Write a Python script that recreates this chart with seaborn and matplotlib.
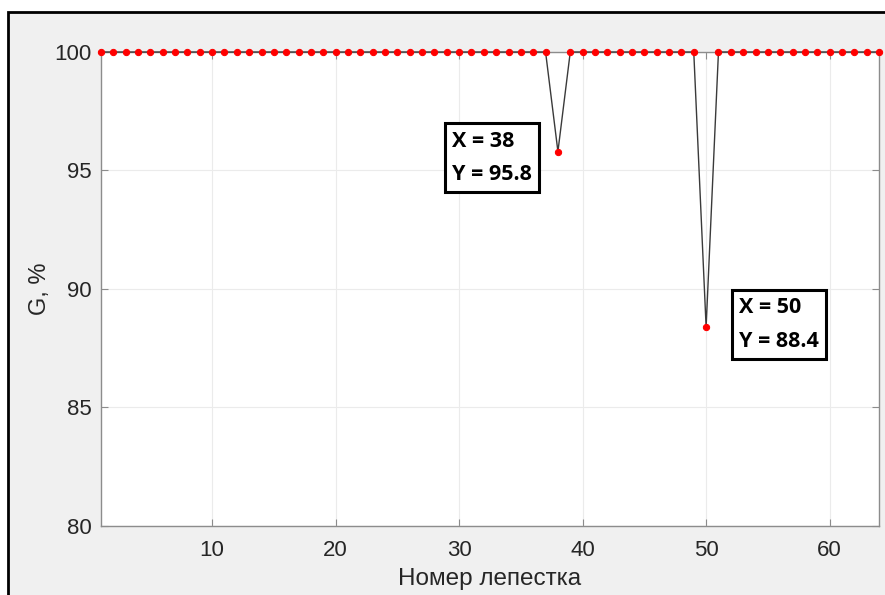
import matplotlib
matplotlib.use("Agg")
import matplotlib.pyplot as plt
import matplotlib.patches as mpatches
import seaborn as sns
import pandas as pd

# ---- data ----
petal_number = list(range(1, 65))
g_percent = [100, 100, 100, 100, 100, 100, 100, 100, 100, 100,
             100, 100, 100, 100, 100, 100, 100, 100, 100, 100,
             100, 100, 100, 100, 100, 100, 100, 100, 100, 100,
             100, 100, 100, 100, 100, 100, 100, 95.8, 100, 100,
             100, 100, 100, 100, 100, 100, 100, 100, 100, 88.4,
             100, 100, 100, 100, 100, 100, 100, 100, 100, 100,
             100, 100, 100, 100]
tip_points = [(38, 95.8), (50, 88.4)]
x_ticks = [10, 20, 30, 40, 50, 60]
y_ticks = [80, 85, 90, 95, 100]
x_label = "Номер лепестка"
y_label = "G, %"

df = pd.DataFrame({"x": petal_number, "y": g_percent})

sns.set_theme(style="white")
plt.rcParams["font.family"] = ["Liberation Sans", "DejaVu Sans"]

W, H = 885, 595
fig = plt.figure(figsize=(W / 100, H / 100), dpi=100, facecolor="white")

# outer gray panel with black frame
panel = mpatches.Rectangle((8 / W, -0.05), 1.2, 1 - 12 / H + 0.05,
                           transform=fig.transFigure, facecolor="#f0f0f0",
                           edgecolor="black", linewidth=2, zorder=-5)
fig.patches.append(panel)

ax = fig.add_axes([101 / W, 1 - 526 / H, (879 - 101) / W, (526 - 52) / H])
ax.set_facecolor("white")
ax.set_zorder(1)

sns.lineplot(data=df, x="x", y="y", ax=ax, color="#3a3a3a", linewidth=1.0,
             marker="o", markersize=4.5, markerfacecolor="red",
             markeredgecolor="red", zorder=5, clip_on=False)

ax.set_xlim(1, 64)
ax.set_ylim(80, 100)
ax.set_xticks(x_ticks)
ax.set_yticks(y_ticks)
ax.grid(True, color="#ebebeb", linewidth=0.8)
ax.set_axisbelow(True)

for s in ax.spines.values():
    s.set_visible(True)
    s.set_color("#8c8c8c")
    s.set_linewidth(1.0)

ax.tick_params(axis="both", direction="in", length=5, width=0.8,
               color="#8c8c8c", labelsize=16, labelcolor="#262626",
               top=True, right=True, bottom=True, left=True)
ax.tick_params(axis="x", pad=10)
ax.tick_params(axis="y", pad=7)

ax.set_xlabel(x_label, fontsize=17.5, color="#262626", labelpad=5)
ax.set_ylabel(y_label, fontsize=17, color="#262626", labelpad=2)

# data tips
offsets = [(-106, 21), (33, 30)]
for (px, py), (ox, oy) in zip(tip_points, offsets):
    ax.annotate(f"X = {px:g}\nY = {py:g}", xy=(px, py), xycoords="data",
                xytext=(ox, oy), textcoords="offset pixels",
                ha="left", va="top", fontsize=15.5, fontweight="bold",
                family=["Open Sans", "DejaVu Sans"], color="black",
                linespacing=1.8,
                bbox=dict(boxstyle="square,pad=0.33", facecolor="white",
                          edgecolor="black", linewidth=2.2),
                zorder=10)

fig.savefig("out.png", dpi=100, facecolor=fig.get_facecolor())
